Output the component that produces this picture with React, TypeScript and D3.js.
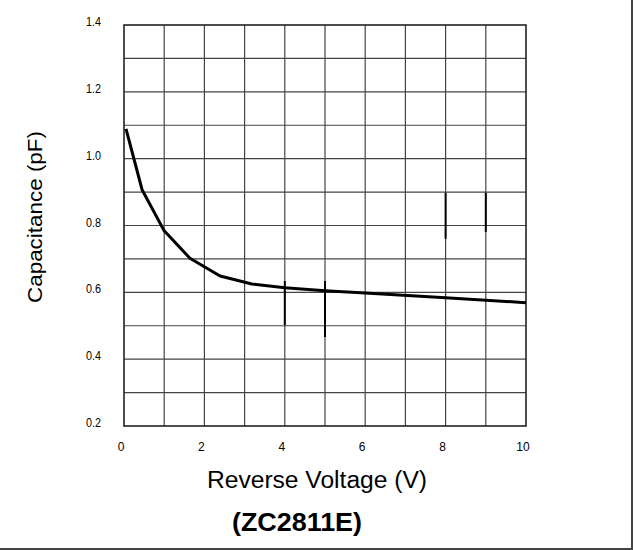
import React from "react";
import * as d3 from "d3";

const voltage = [0.05, 0.45, 1.0, 1.64, 2.39, 3.18, 4.0, 5.0, 6.0, 8.0, 10.0];
const capacitance = [1.089, 0.907, 0.784, 0.702, 0.649, 0.625, 0.614, 0.605, 0.598, 0.584, 0.569];
const xTicks = [0, 2, 4, 6, 8, 10];
const yTicks = [0.2, 0.4, 0.6, 0.8, 1.0, 1.2, 1.4];
const xGrid = [1, 2, 3, 4, 5, 6, 7, 8, 9];
const yGrid = [0.3, 0.4, 0.5, 0.6, 0.7, 0.8, 0.9, 1.0, 1.1, 1.2, 1.3];
// dark artefact segments on vertical gridlines: [voltage, cLow, cHigh]
const darkSegV = [4, 5, 8, 9];
const darkSegLow = [0.502, 0.466, 0.76, 0.781];
const darkSegHigh = [0.634, 0.634, 0.898, 0.898];

export default function App() {
  const W = 633, H = 550;
  const x = d3.scaleLinear().domain([0, 10]).range([124, 526]);
  const y = d3.scaleLinear().domain([0.2, 1.4]).range([426, 25]);
  const line = d3
    .line<number>()
    .x((_, i) => x(voltage[i]))
    .y((d) => y(d))
    .curve(d3.curveLinear);
  const font = "'Liberation Sans', Arial, Helvetica, sans-serif";
  return (
    <svg
      width={W}
      height={H}
      style={{ position: "absolute", left: 0, top: 0, background: "#fff" }}
      fontFamily={font}
    >
      <rect x={0} y={0} width={W} height={H} fill="#fff" />
      {xGrid.map((v) => (
        <line key={"xg" + v} x1={x(v)} x2={x(v)} y1={y(1.4)} y2={y(0.2)} stroke="#444" strokeWidth={1.2} />
      ))}
      {yGrid.map((v) => (
        <line key={"yg" + v} x1={x(0)} x2={x(10)} y1={y(v)} y2={y(v)} stroke="#444" strokeWidth={1.2} />
      ))}
      {darkSegV.map((v, i) => (
        <line
          key={"ds" + i}
          x1={x(v)}
          x2={x(v)}
          y1={y(darkSegHigh[i])}
          y2={y(darkSegLow[i])}
          stroke="#000"
          strokeWidth={2}
        />
      ))}
      <rect x={x(0)} y={y(1.4)} width={x(10) - x(0)} height={y(0.2) - y(1.4)} fill="none" stroke="#222" strokeWidth={1.6} />
      <path d={line(capacitance) || ""} fill="none" stroke="#000" strokeWidth={3} strokeLinejoin="round" />
      {yTicks.map((v) => (
        <text key={"yt" + v} x={101} y={y(v) + 1} fontSize={12} textAnchor="end" fill="#000" textLength={15} lengthAdjust="spacingAndGlyphs">
          {v.toFixed(1)}
        </text>
      ))}
      {xTicks.map((v) => (
        <text key={"xt" + v} x={x(v) - 3} y={451} fontSize={12} textAnchor="middle" fill="#000">
          {v}
        </text>
      ))}
      <text x={317} y={488} fontSize={23} textAnchor="middle" fill="#000" textLength={220} lengthAdjust="spacingAndGlyphs">
        Reverse Voltage (V)
      </text>
      <text x={297} y={531} fontSize={26} fontWeight="bold" textAnchor="middle" fill="#000" textLength={130} lengthAdjust="spacingAndGlyphs">
        (ZC2811E)
      </text>
      <text transform="translate(42,217) rotate(-90)" fontSize={21} textAnchor="middle" fill="#000" textLength={172} lengthAdjust="spacingAndGlyphs">
        Capacitance (pF)
      </text>
      <line x1={0} x2={W} y1={549} y2={549} stroke="#444" strokeWidth={2} />
      <line x1={632} x2={632} y1={0} y2={H} stroke="#444" strokeWidth={2} />
    </svg>
  );
}
